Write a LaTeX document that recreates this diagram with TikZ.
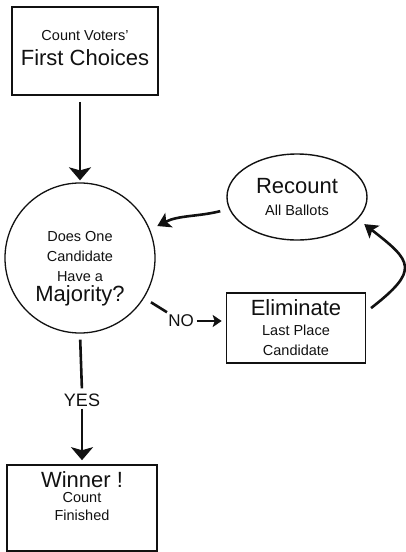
\documentclass[tikz,border=0pt]{standalone}
\usepackage{fontspec}
\setmainfont{Liberation Sans}
\usepackage{tikz}
\usetikzlibrary{arrows.meta, positioning, shapes.geometric}
\definecolor{rcvInk}{HTML}{111111}
\newcommand{\bigtxt}[1]{{\fontsize{22}{24}\selectfont #1}}

\begin{document}
\begin{tikzpicture}[x=1pt, y=1pt,
  box/.style={draw=rcvInk, line width=1.6pt, align=center, inner sep=0pt,
              font=\fontsize{14.5}{20}\selectfont, text=rcvInk},
  ques/.style={draw=rcvInk, line width=1.3pt, circle, align=center, inner sep=0pt,
               minimum size=150pt, font=\fontsize{14.5}{20}\selectfont, text=rcvInk},
  oval/.style={draw=rcvInk, line width=1.4pt, ellipse, align=center, inner sep=0pt,
               minimum width=140pt, minimum height=86pt,
               font=\fontsize{14.5}{22}\selectfont, text=rcvInk},
  lbl/.style={inner sep=2pt, text=rcvInk},
  arr/.style={-{Stealth[length=13pt, width=22pt, inset=3pt]}, line width=2.6pt, draw=rcvInk},
  bent/.style={-{Stealth[length=13pt, width=16pt, inset=3pt]}, line width=2.6pt, draw=rcvInk},
  small/.style={-{Stealth[length=9pt, width=12pt, inset=2pt]}, line width=2.4pt, draw=rcvInk},
  plain/.style={line width=2.6pt, draw=rcvInk}
]
  \useasboundingbox (0,0) rectangle (406,-552);

  \node[box, minimum width=146pt, minimum height=88pt] (count) at (85,-51)
    {Count Voters'\\[5pt]\bigtxt{First Choices}\\[-14pt]\mbox{}};
  \node[ques] (maj) at (80,-258)
    {\mbox{}\\[12pt]Does One\\Candidate\\Have a\\\bigtxt{Majority?}};
  \node[oval] (rec) at (297,-197) {\bigtxt{Recount}\\All Ballots};
  \node[box, minimum width=139pt, minimum height=70pt] (elim) at (296,-328)
    {\bigtxt{Eliminate}\\Last Place\\Candidate};
  \node[box, minimum width=150pt, minimum height=86pt] (win) at (82,-508)
    {\bigtxt{Winner !}\\[-5pt]Count\\[-2pt]Finished\\[4pt]\mbox{}};
  \node[lbl, font=\fontsize{18}{20}\selectfont] (yes) at (82,-400) {YES};
  \node[lbl, font=\fontsize{17}{20}\selectfont] (no) at (181,-321) {NO};

  \draw[arr, shorten <=6pt, shorten >=2pt] (count.south -| maj.north) -- (maj.north);
  \draw[plain, shorten <=6pt, shorten >=3pt] (maj.south) -- (yes.north);
  \draw[arr, shorten >=4pt] (yes.south) -- (win.north);
  \draw[plain, shorten <=8pt, shorten >=1pt] (maj) -- (no);
  \draw[small, shorten <=1pt, shorten >=4pt] (no) -- (no -| elim.west);
  \draw[bent, shorten <=9pt, shorten >=8pt] (rec.190) to[out=194, in=27] (maj.22);
  \draw[bent, shorten <=6pt, shorten >=8pt] (elim.13) .. controls +(54,42) and +(54,-42) .. (rec.-20);
\end{tikzpicture}
\end{document}
